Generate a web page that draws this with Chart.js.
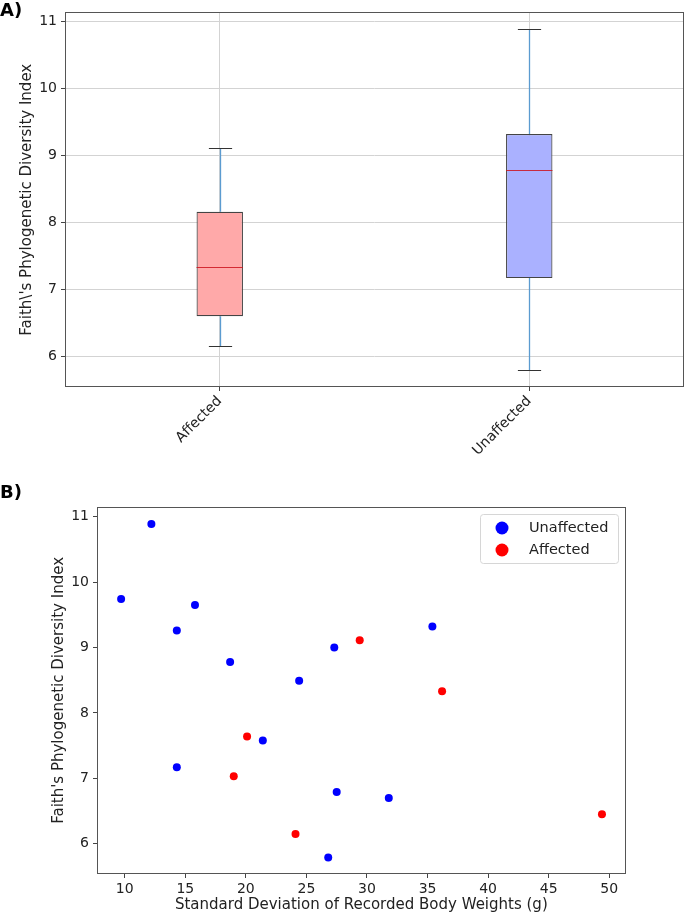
<!DOCTYPE html>
<html>
<head>
<meta charset="utf-8">
<script src="https://cdn.jsdelivr.net/npm/chart.js@4.4.1/dist/chart.umd.min.js"></script>
<style>
  body { margin: 0; background: #fff; width: 685px; height: 915px; position: relative; overflow: hidden; font-family: "DejaVu Sans", sans-serif; }
  canvas { position: absolute; left: 0; }
  #boxChart { top: 0; }
  #scatterChart { top: 470px; }
  .panel { position: absolute; left: 0; font-weight: bold; font-size: 18px; line-height: 1; color: #000; }
</style>
</head>
<body>
<canvas id="boxChart" width="685" height="470"></canvas>
<canvas id="scatterChart" width="685" height="445"></canvas>
<div class="panel" style="top:1px">A)</div>
<div class="panel" style="top:483px">B)</div>
<script>
// Panel A: box plot summary per group
const groups = ['Affected', 'Unaffected'];
const whiskerLow = [6.15, 5.80];
const quartile1 = [6.60, 7.17];
const medians = [7.33, 8.79];
const quartile3 = [8.16, 9.32];
const whiskerHigh = [9.11, 10.89];
const boxTicks = [6, 7, 8, 9, 10, 11];

// Panel B: SD of body weight (g) vs Faith's PD
const unaffectedSd = [12.2, 9.7, 15.8, 14.3, 18.7, 27.3, 24.4, 21.4, 14.3, 27.5, 26.8, 35.4, 31.8];
const unaffectedPd = [10.89, 9.74, 9.65, 9.26, 8.78, 9.00, 8.49, 7.58, 7.17, 6.79, 5.79, 9.32, 6.70];
const affectedSd = [20.1, 19.0, 24.1, 29.4, 36.2, 49.4];
const affectedPd = [7.64, 7.03, 6.15, 9.11, 8.33, 6.45];
const sdTicks = [10, 15, 20, 25, 30, 35, 40, 45, 50];
const pdTicks = [6, 7, 8, 9, 10, 11];

const tickFont = { family: 'DejaVu Sans', size: 14 };
const titleFont = { family: 'DejaVu Sans', size: 15 };

// draws the full box round the plot area
const frame = {
  id: 'frame',
  afterDatasetsDraw(chart) {
    const { ctx, chartArea: a } = chart;
    ctx.save();
    ctx.strokeStyle = '#555';
    ctx.lineWidth = 1;
    ctx.strokeRect(Math.round(a.left) + 0.5, Math.round(a.top) + 0.5,
      Math.round(a.right - a.left) - 1, Math.round(a.bottom - a.top) - 1);
    ctx.restore();
  }
};

// whiskers, caps and medians for the box plot
const boxParts = {
  id: 'boxParts',
  beforeDatasetsDraw(chart) {
    const { ctx, scales: { x, y } } = chart;
    const bars = chart.getDatasetMeta(0).data;
    ctx.save();
    groups.forEach((g, i) => {
      const cx = Math.round(x.getPixelForValue(i)) + 0.5;
      const half = bars[i].width / 4;
      ctx.strokeStyle = '#5b9bd0';
      ctx.lineWidth = 1.3;
      ctx.beginPath();
      ctx.moveTo(cx, y.getPixelForValue(quartile3[i]));
      ctx.lineTo(cx, y.getPixelForValue(whiskerHigh[i]));
      ctx.moveTo(cx, y.getPixelForValue(quartile1[i]));
      ctx.lineTo(cx, y.getPixelForValue(whiskerLow[i]));
      ctx.stroke();
      ctx.strokeStyle = '#333';
      ctx.lineWidth = 1.2;
      ctx.beginPath();
      [whiskerHigh[i], whiskerLow[i]].forEach(v => {
        const py = Math.round(y.getPixelForValue(v)) + 0.5;
        ctx.moveTo(cx - half, py);
        ctx.lineTo(cx + half, py);
      });
      ctx.stroke();
    });
    ctx.restore();
  },
  afterDatasetsDraw(chart) {
    const { ctx, scales: { y } } = chart;
    const bars = chart.getDatasetMeta(0).data;
    ctx.save();
    ctx.strokeStyle = 'rgba(205, 20, 30, 0.85)';
    ctx.lineWidth = 1.2;
    groups.forEach((g, i) => {
      const b = bars[i];
      const py = Math.round(y.getPixelForValue(medians[i])) + 0.5;
      ctx.beginPath();
      ctx.moveTo(b.x - b.width / 2, py);
      ctx.lineTo(b.x + b.width / 2, py);
      ctx.stroke();
    });
    ctx.restore();
  }
};

// legend in the upper right corner of the scatter
const cornerLegend = {
  id: 'cornerLegend',
  afterDatasetsDraw(chart) {
    const { ctx, chartArea: a } = chart;
    const w = 138, h = 49;
    const left = Math.round(a.right - 8 - w), top = Math.round(a.top + 7);
    ctx.save();
    ctx.fillStyle = 'rgba(255,255,255,0.8)';
    ctx.strokeStyle = '#d6d6d6';
    ctx.lineWidth = 1;
    ctx.beginPath();
    ctx.roundRect(left + 0.5, top + 0.5, w, h, 3);
    ctx.fill();
    ctx.stroke();
    ctx.font = '14.5px "DejaVu Sans"';
    ctx.textBaseline = 'middle';
    chart.data.datasets.forEach((ds, i) => {
      const cy = top + 14 + i * 22;
      ctx.fillStyle = ds.backgroundColor;
      ctx.beginPath();
      ctx.arc(left + 22, cy, 6.5, 0, Math.PI * 2);
      ctx.fill();
      ctx.fillStyle = '#222';
      ctx.fillText(ds.label, left + 49, cy);
    });
    ctx.restore();
  }
};

new Chart(document.getElementById('boxChart'), {
  type: 'bar',
  data: {
    labels: groups,
    datasets: [{
      data: groups.map((g, i) => [quartile1[i], quartile3[i]]),
      backgroundColor: ['#ffa9a9', '#aab1ff'],
      borderColor: '#444',
      borderWidth: 1.2,
      borderSkipped: false,
      barPercentage: 0.15,
      categoryPercentage: 1
    }]
  },
  options: {
    responsive: false,
    animation: false,
    layout: { padding: { top: 6, right: 1, left: 0, bottom: 0 } },
    plugins: { legend: { display: false }, tooltip: { enabled: false } },
    scales: {
      x: {
        offset: true,
        grid: { offset: false, color: '#d3d3d3', tickColor: '#444', tickLength: 4 },
        border: { display: false },
        ticks: { font: tickFont, color: '#222', minRotation: 45, maxRotation: 45, padding: 2 },
        afterFit(s) { s.height = 83; }
      },
      y: {
        min: 5.545,
        max: 11.136,
        afterBuildTicks(s) { s.ticks = boxTicks.map(v => ({ value: v })); },
        grid: { color: '#d3d3d3', tickColor: '#444', tickLength: 4 },
        border: { display: false },
        ticks: { font: tickFont, color: '#222', padding: 4 },
        title: {
          display: true,
          text: "Faith\\'s Phylogenetic Diversity Index",
          font: titleFont,
          color: '#222',
          padding: { top: 18, bottom: 0 }
        },
        afterFit(s) { s.width = 65; }
      }
    }
  },
  plugins: [boxParts, frame]
});

new Chart(document.getElementById('scatterChart'), {
  type: 'scatter',
  data: {
    datasets: [
      {
        label: 'Unaffected',
        data: unaffectedSd.map((v, i) => ({ x: v, y: unaffectedPd[i] })),
        backgroundColor: '#0000ff',
        pointRadius: 4,
        pointBorderWidth: 0
      },
      {
        label: 'Affected',
        data: affectedSd.map((v, i) => ({ x: v, y: affectedPd[i] })),
        backgroundColor: '#ff0000',
        pointRadius: 4,
        pointBorderWidth: 0
      }
    ]
  },
  options: {
    responsive: false,
    animation: false,
    layout: { padding: { top: 36.7, right: 59.3, left: 0, bottom: 0 } },
    plugins: { legend: { display: false }, tooltip: { enabled: false } },
    scales: {
      x: {
        type: 'linear',
        min: 7.71,
        max: 51.36,
        afterBuildTicks(s) { s.ticks = sdTicks.map(v => ({ value: v })); },
        grid: { drawOnChartArea: false, tickColor: '#444', tickLength: 4 },
        border: { display: false },
        ticks: { font: tickFont, color: '#222', padding: 3 },
        title: {
          display: true,
          text: 'Standard Deviation of Recorded Body Weights (g)',
          font: titleFont,
          color: '#222',
          padding: { top: 0, bottom: 1 }
        },
        afterFit(s) { s.height = 41; }
      },
      y: {
        min: 5.537,
        max: 11.153,
        afterBuildTicks(s) { s.ticks = pdTicks.map(v => ({ value: v })); },
        grid: { drawOnChartArea: false, tickColor: '#444', tickLength: 4 },
        border: { display: false },
        ticks: { font: tickFont, color: '#222', padding: 4 },
        title: {
          display: true,
          text: "Faith's Phylogenetic Diversity Index",
          font: titleFont,
          color: '#222',
          padding: { top: 50.5, bottom: 0 }
        },
        afterFit(s) { s.width = 97; }
      }
    }
  },
  plugins: [cornerLegend, frame]
});
</script>
</body>
</html>
